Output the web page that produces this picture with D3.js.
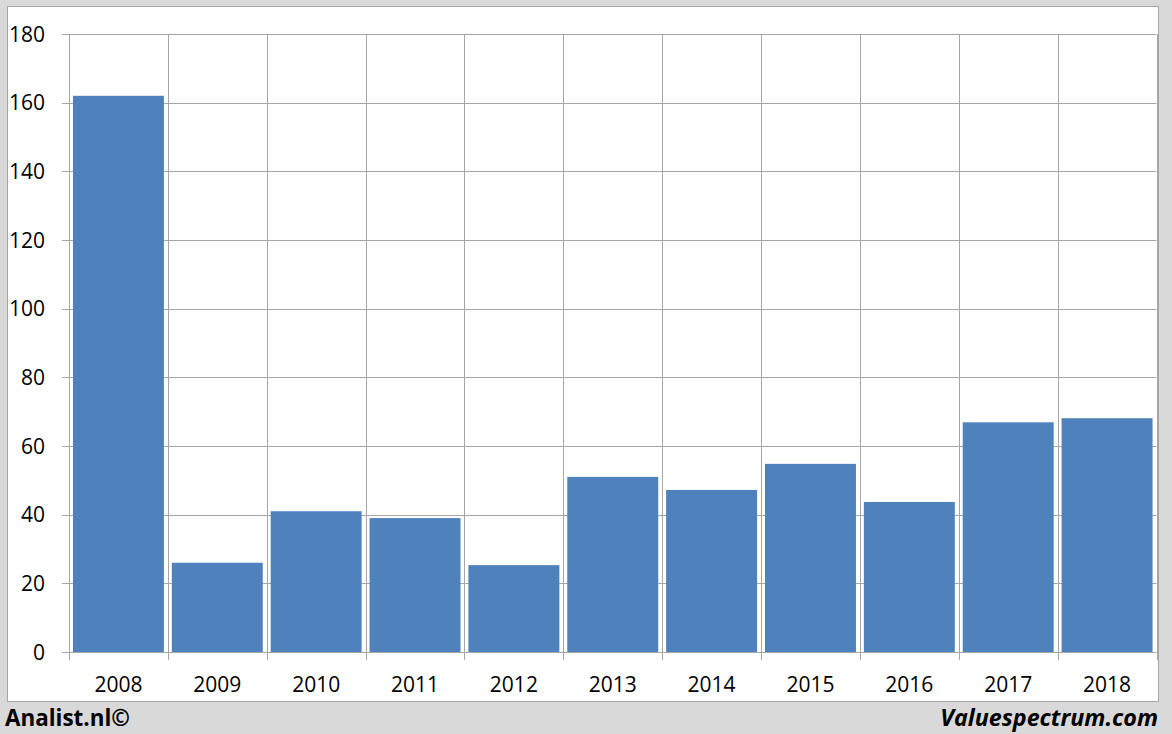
<!DOCTYPE html>
<html><head><meta charset="utf-8">
<script src="https://cdn.jsdelivr.net/npm/d3@7"></script>
<style>body{margin:0;background:#d9d9d9;} svg{display:block;}</style>
</head><body>
<svg id="c" width="1172" height="734"></svg>
<script>
const categories = ["2008","2009","2010","2011","2012","2013","2014","2015","2016","2017","2018"];
const values = [162, 26, 41, 39, 25.3, 51, 47.2, 54.8, 43.7, 66.9, 68.1];
const yTicks = [0, 20, 40, 60, 80, 100, 120, 140, 160, 180];

(function () {
const svg = d3.select("#c");
const W = 1172, H = 734;
const font = "'Open Sans', 'Liberation Sans', sans-serif";

svg.append("rect").attr("width", W).attr("height", H).attr("fill", "#d9d9d9");
svg.append("rect").attr("x", 7.5).attr("y", 6.5).attr("width", 1151).attr("height", 695)
  .attr("fill", "#fff").attr("stroke", "#a6a6a6").attr("stroke-width", 1);

const pLeft = 69, pRight = 1156.5, pTop = 34, pBottom = 652;
const x = d3.scaleBand().domain(categories).range([pLeft, pRight]).paddingInner(0.08).paddingOuter(0.04);
const xb = d3.scaleBand().domain(categories).range([pLeft, pRight]).padding(0);
const y = d3.scaleLinear().domain([0, 180]).range([pBottom, pTop]);

const g = svg.append("g");
g.selectAll("line.h").data(yTicks).enter().append("line")
  .attr("x1", pLeft - 7).attr("x2", pRight)
  .attr("y1", d => Math.round(y(d)) + 0.5).attr("y2", d => Math.round(y(d)) + 0.5)
  .attr("stroke", "#a6a6a6").attr("stroke-width", 1);
const bounds = categories.map(c => xb(c)).concat([pRight]);
g.selectAll("line.v").data(bounds).enter().append("line")
  .attr("x1", d => Math.round(d) + 0.5).attr("x2", d => Math.round(d) + 0.5)
  .attr("y1", pTop).attr("y2", pBottom + 8)
  .attr("stroke", "#a6a6a6").attr("stroke-width", 1);

g.selectAll("rect.bar").data(values).enter().append("rect")
  .attr("x", (d, i) => x(categories[i]))
  .attr("width", x.bandwidth())
  .attr("y", d => y(d))
  .attr("height", d => pBottom - y(d))
  .attr("fill", "#4f81bd");

g.selectAll("text.y").data(yTicks).enter().append("text")
  .attr("x", 45).attr("y", d => y(d) + 7.5)
  .attr("text-anchor", "end")
  .attr("font-family", font).attr("font-size", 21).attr("fill", "#000")
  .text(d => d);

g.selectAll("text.x").data(categories).enter().append("text")
  .attr("x", d => xb(d) + xb.bandwidth() / 2).attr("y", 692)
  .attr("text-anchor", "middle")
  .attr("font-family", font).attr("font-size", 21).attr("fill", "#000")
  .text(d => d);

function fit(sel, w) {
  const len = sel.node().getComputedTextLength();
  const fs = +sel.attr("font-size");
  sel.attr("font-size", fs * w / len);
}
const a = svg.append("text").attr("x", 5).attr("y", 726)
  .attr("font-family", font).attr("font-size", 22).attr("font-weight", "bold")
  .text("Analist.nl©");
fit(a, 125);
const v = svg.append("text").attr("x", 1158).attr("y", 726).attr("text-anchor", "end")
  .attr("font-family", font).attr("font-size", 22).attr("font-weight", "bold").attr("font-style", "italic")
  .text("Valuespectrum.com");
fit(v, 218);
})();
</script>
</body></html>
